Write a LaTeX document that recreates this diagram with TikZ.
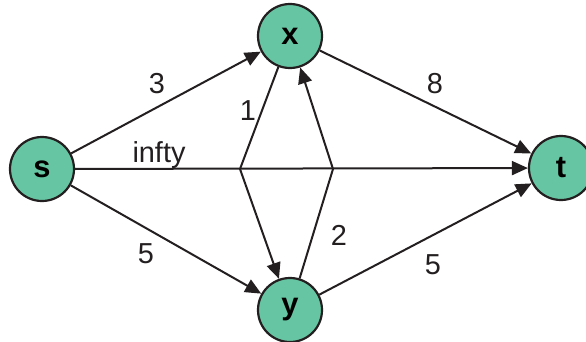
\documentclass[tikz,border=0pt]{standalone}
\usepackage{fontspec}
\setmainfont{Liberation Sans}
\usetikzlibrary{arrows.meta}

\begin{document}
\begin{tikzpicture}[x=1bp, y=1bp]
    % Define colours
    \definecolor{borderColour}{HTML}{231F20}
    \definecolor{fillColour}{HTML}{66C5A2}

    \tikzset{
        vertex/.style={circle, draw=borderColour, fill=fillColour, line width=2.2bp,
            minimum size=64bp, inner sep=0pt, font=\fontsize{31}{36}\selectfont\bfseries},
        flow/.style={draw=borderColour, line width=2bp,
            -{Triangle[length=16bp, width=14bp]}},
        weight/.style={font=\fontsize{29}{34}\selectfont, text=borderColour, inner sep=0pt}
    }

    % Fix the page size
    \useasboundingbox (0,0) rectangle (586,341);

    % Place the vertices
    \node[vertex] (s) at (42,172) {s};
    \node[vertex] (x) at (290,305) {x};
    \node[vertex] (y) at (290,31) {y};
    \node[vertex] (t) at (561,173) {t};

    % Bend points where the middle edges meet the s-t edge
    \coordinate (bendL) at (240,172);
    \coordinate (bendR) at (333,172);

    % Draw the edges
    \draw[flow] (s) -- (x);
    \draw[flow] (s) -- (y);
    \draw[flow] (s) -- (t);
    \draw[flow] (x) -- (t);
    \draw[flow] (y) -- (t);
    \draw[flow] (x) -- (bendL) -- (y);
    \draw[flow] (y) -- (bendR) -- (x);

    % Label the edges
    \node[weight] (wSX) at (157,257) {3};
    \node[weight] (wST) at (159,186) {infty};
    \node[weight] (wSY) at (146,87) {5};
    \node[weight] (wXT) at (435,257) {8};
    \node[weight] (wYT) at (433,76) {5};
    \node[weight] (wXY) at (248,230) {1};
    \node[weight] (wYX) at (339,106) {2};

\end{tikzpicture}
\end{document}
